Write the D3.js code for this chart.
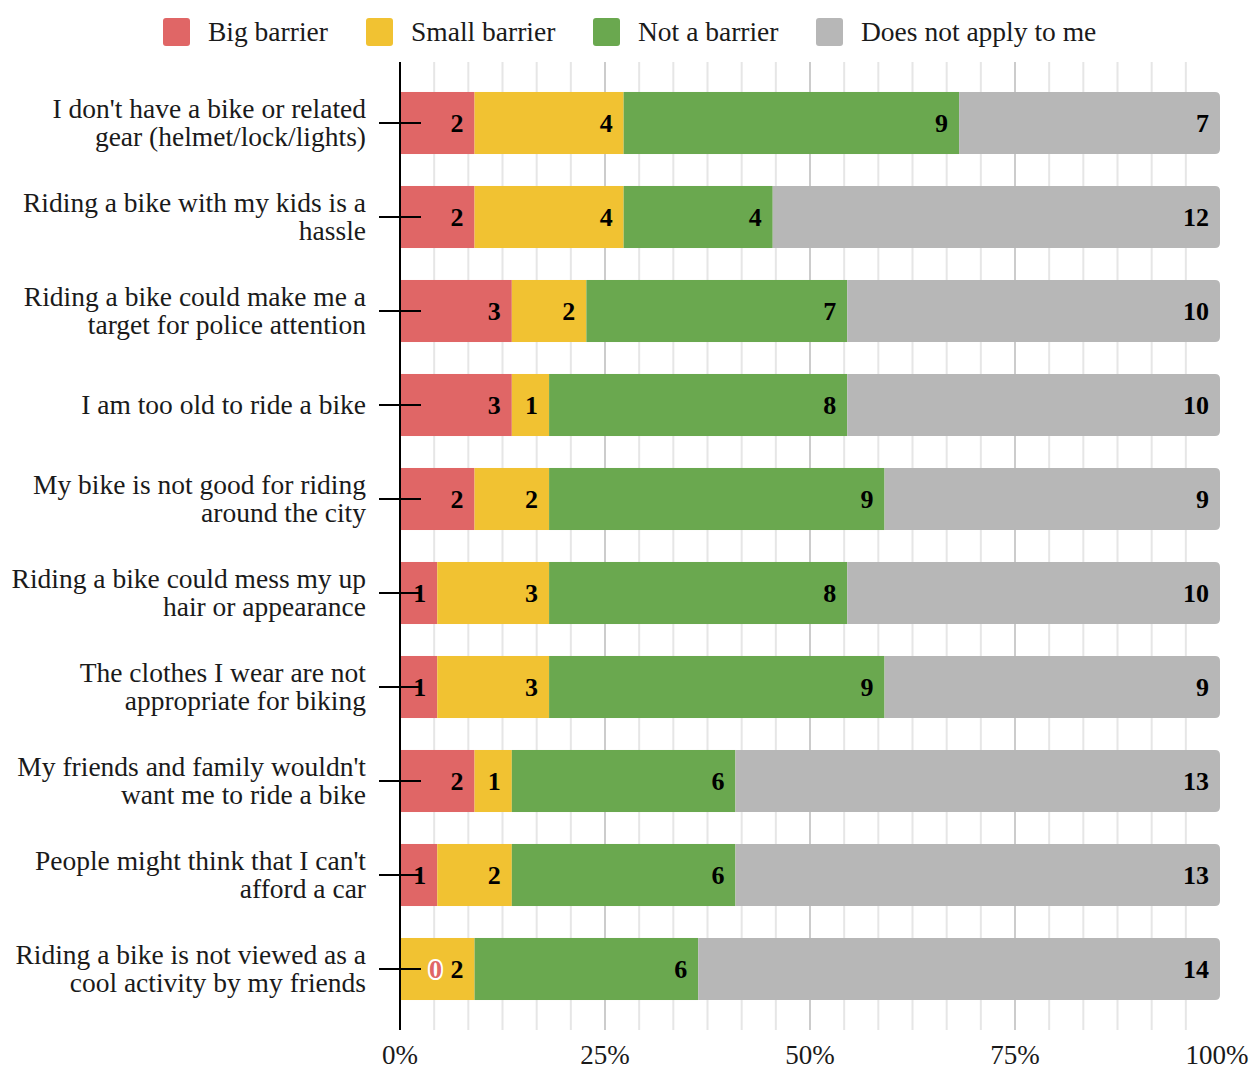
<!DOCTYPE html>
<html><head><meta charset="utf-8">
<script src="https://cdn.jsdelivr.net/npm/d3@7"></script>
<style>body{margin:0;background:#fff;} svg{display:block;}</style>
</head><body>
<svg id="chart" width="1254" height="1070"></svg>
<script>
const categories = [
  ["I don't have a bike or related", "gear (helmet/lock/lights)"],
  ["Riding a bike with my kids is a", "hassle"],
  ["Riding a bike could make me a", "target for police attention"],
  ["I am too old to ride a bike"],
  ["My bike is not good for riding", "around the city"],
  ["Riding a bike could mess my up", "hair or appearance"],
  ["The clothes I wear are not", "appropriate for biking"],
  ["My friends and family wouldn't", "want me to ride a bike"],
  ["People might think that I can't", "afford a car"],
  ["Riding a bike is not viewed as a", "cool activity by my friends"]
];
const seriesNames = ["Big barrier", "Small barrier", "Not a barrier", "Does not apply to me"];
const bigBarrier   = [2, 2, 3, 3, 2, 1, 1, 2, 1, 0];
const smallBarrier = [4, 4, 2, 1, 2, 3, 3, 1, 2, 2];
const notBarrier   = [9, 4, 7, 8, 9, 8, 9, 6, 6, 6];
const notApply     = [7, 12, 10, 10, 9, 10, 9, 13, 13, 14];
const tickLabels = ["0%", "25%", "50%", "75%", "100%"];
const colors = ["#e06666", "#f1c232", "#6aa84f", "#b7b7b7"];

(function () {
const svg = d3.select("#chart");
const font = "'Liberation Serif','Times New Roman',serif";
const plotL = 400, plotR = 1220, plotT = 62, plotB = 1030;

const rows = categories.map((c, i) => {
  const vals = [bigBarrier[i], smallBarrier[i], notBarrier[i], notApply[i]];
  const total = d3.sum(vals);
  let cum = 0;
  const segs = vals.map((v, k) => { const s = {k, v, x0: cum / total, x1: (cum + v) / total}; cum += v; return s; });
  return {i, label: c, segs};
});

const x = d3.scaleLinear().domain([0, 1]).range([plotL, plotR]);
const y = d3.scaleBand().domain(d3.range(categories.length)).range([76, 1016]).paddingInner(0.34).paddingOuter(0.17);

// gridlines
const grid = svg.append("g");
d3.range(1, 24).forEach(j => {
  const major = j % 6 === 0;
  grid.append("line").attr("x1", x(j / 24)).attr("x2", x(j / 24)).attr("y1", plotT).attr("y2", plotB)
    .attr("stroke", major ? "#cccccc" : "#e6e6e6").attr("stroke-width", 2);
});

// bars
const rowG = svg.append("g").selectAll("g").data(rows).join("g");
rowG.each(function(r) {
  const g = d3.select(this);
  const y0 = y(r.i), h = y.bandwidth();
  r.segs.forEach((s, k) => {
    if (s.v === 0) return;
    const xa = x(s.x0), xb = x(s.x1);
    if (k === 3) {
      const rr = 5;
      g.append("path").attr("fill", colors[k])
        .attr("d", `M${xa},${y0}H${xb - rr}Q${xb},${y0} ${xb},${y0 + rr}V${y0 + h - rr}Q${xb},${y0 + h} ${xb - rr},${y0 + h}H${xa}Z`);
    } else {
      g.append("rect").attr("x", xa).attr("y", y0).attr("width", xb - xa).attr("height", h).attr("fill", colors[k]);
    }
  });
});

// axis line + ticks
svg.append("line").attr("x1", plotL).attr("x2", plotL).attr("y1", plotT).attr("y2", plotB).attr("stroke", "#000").attr("stroke-width", 2);
rows.forEach(r => {
  const cy = y(r.i) + y.bandwidth() / 2;
  svg.append("line").attr("x1", 379).attr("x2", 421).attr("y1", cy).attr("y2", cy).attr("stroke", "#000").attr("stroke-width", 2);
});

// value labels
rows.forEach(r => {
  const cy = y(r.i) + y.bandwidth() / 2;
  r.segs.forEach((s, k) => {
    if (s.v === 0) {
      svg.append("text").attr("x", x(s.x1) + 42).attr("y", cy).attr("dy", "0.35em").attr("text-anchor", "end")
        .attr("font-family", font).attr("font-size", 26).attr("font-weight", "bold")
        .attr("fill", colors[0]).attr("stroke", "#fff").attr("stroke-width", 4).attr("paint-order", "stroke")
        .text(s.v);
      return;
    }
    svg.append("text").attr("x", x(s.x1) - 11).attr("y", cy).attr("dy", "0.35em").attr("text-anchor", "end")
      .attr("font-family", font).attr("font-size", 26).attr("font-weight", "bold").attr("fill", "#000")
      .text(s.v);
  });
});

// category labels
rows.forEach(r => {
  const cy = y(r.i) + y.bandwidth() / 2;
  const n = r.label.length;
  const t = svg.append("text").attr("text-anchor", "end").attr("font-family", font).attr("font-size", 27.5).attr("fill", "#1a1a1a");
  r.label.forEach((line, j) => {
    t.append("tspan").attr("x", 366).attr("y", cy + (j - (n - 1) / 2) * 28).attr("dy", "0.34em").text(line);
  });
});

// x tick labels
tickLabels.forEach((t, j) => {
  svg.append("text").attr("x", x(j / 4) + (j === 4 ? -3 : 0)).attr("y", 1064).attr("text-anchor", "middle")
    .attr("font-family", font).attr("font-size", 27).attr("fill", "#1a1a1a").text(t);
});

// legend
const legX = [163, 366, 593, 816];
seriesNames.forEach((name, k) => {
  svg.append("rect").attr("x", legX[k]).attr("y", 18).attr("width", 27).attr("height", 28).attr("rx", 3).attr("fill", colors[k]);
  svg.append("text").attr("x", legX[k] + 45).attr("y", 32).attr("dy", "0.34em").attr("font-family", font)
    .attr("font-size", 27.5).attr("fill", "#1a1a1a").text(name);
});
})();
</script>
</body></html>
